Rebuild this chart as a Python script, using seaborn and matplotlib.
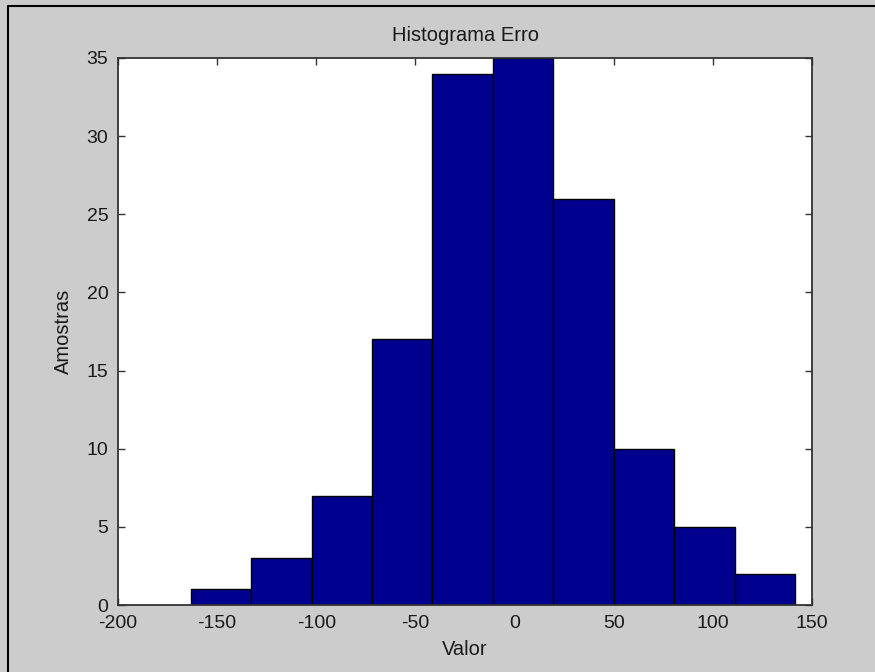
import numpy as np
import pandas as pd
import matplotlib
matplotlib.use("Agg")
import matplotlib.pyplot as plt
from matplotlib.lines import Line2D
import seaborn as sns

# Data
bin_edges = [-163.3, -132.83, -102.36, -71.89, -41.42, -10.95, 19.52, 49.99, 80.46, 110.93, 141.4]
counts = [1, 3, 7, 17, 34, 35, 26, 10, 5, 2]
x_ticks = [-200, -150, -100, -50, 0, 50, 100, 150]
y_ticks = [0, 5, 10, 15, 20, 25, 30, 35]
title = "Histograma Erro"
x_label = "Valor"
y_label = "Amostras"

sns.set_style("white")
plt.rcParams['font.family'] = ['Liberation Sans', 'DejaVu Sans']
plt.rcParams['text.color'] = '#1a1a1a'
plt.rcParams['axes.unicode_minus'] = False

centers = [(bin_edges[i] + bin_edges[i + 1]) / 2 for i in range(len(counts))]
df = pd.DataFrame({"value": centers, "count": counts})

fig = plt.figure(figsize=(8.75, 6.72), dpi=100, facecolor='#cccccc')
ax = fig.add_axes([118 / 875, 1 - 605 / 672, (812 - 118) / 875, (605 - 58) / 672])
ax.set_facecolor('white')

sns.histplot(data=df, x="value", weights="count", bins=bin_edges, ax=ax,
             color='#00008f', edgecolor='black', linewidth=1.0, alpha=1.0)

ax.set_xlim(-200, 150)
ax.set_ylim(0, 35)
ax.set_xticks(x_ticks)
ax.set_yticks(y_ticks)
ax.tick_params(direction='in', length=5, width=1, colors='#333333',
               labelcolor='#1a1a1a', labelsize=14, top=True, right=True,
               bottom=True, left=True, pad=7)
for s in ax.spines.values():
    s.set_visible(True)
    s.set_color('#333333')
    s.set_linewidth(1.3)

ax.set_title(title, fontsize=14.5, pad=12, color='#1a1a1a')
ax.set_xlabel(x_label, fontsize=14.5, labelpad=6, color='#1a1a1a')
ax.set_ylabel(y_label, fontsize=14.5, labelpad=10, color='#1a1a1a')

# window frame lines (top and left)
fig.add_artist(Line2D([8 / 875, 1], [1 - 6 / 672, 1 - 6 / 672], transform=fig.transFigure,
                      color='black', linewidth=1.5))
fig.add_artist(Line2D([8 / 875, 8 / 875], [0, 1 - 6 / 672], transform=fig.transFigure,
                      color='black', linewidth=1.5))

fig.savefig("out.png", dpi=100, facecolor=fig.get_facecolor())
